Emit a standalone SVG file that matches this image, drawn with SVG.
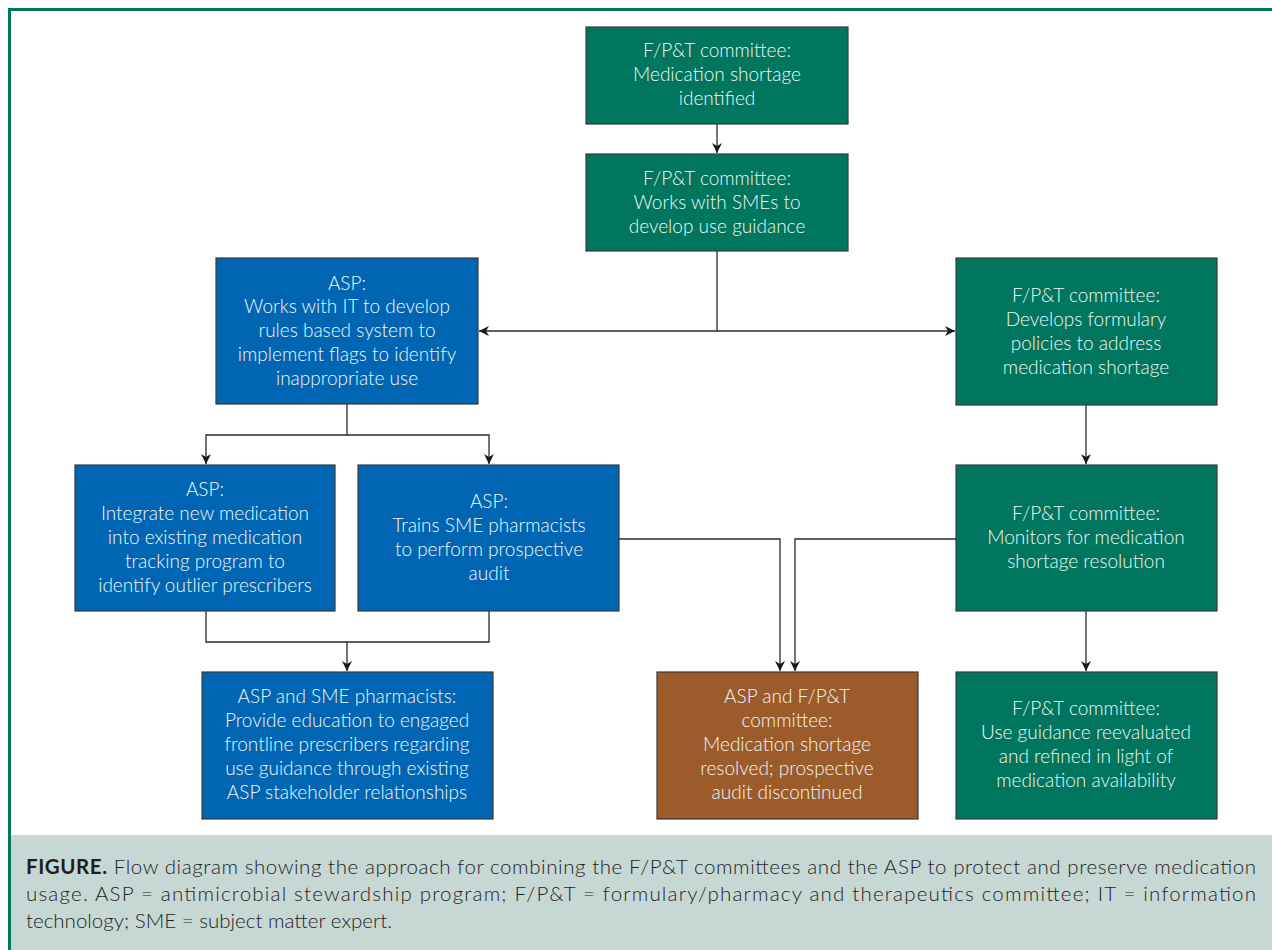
<svg xmlns="http://www.w3.org/2000/svg" width="1272" height="950" viewBox="0 0 1272 950">
<style>
.g{fill:#00765F;stroke:#3a3a3a;stroke-width:1.2}
.b{fill:#0066B3;stroke:#3a3a3a;stroke-width:1.2}
.o{fill:#9C5B2A;stroke:#3a3a3a;stroke-width:1.2}
.t{font-family:Lato,"Open Sans","Liberation Sans",sans-serif;font-weight:300;font-size:19px;fill:#F2F6F5;text-anchor:middle}
.c{fill:none;stroke:#2a2a2a;stroke-width:1.3}
.cap{font-family:Lato,"Open Sans","Liberation Sans",sans-serif;font-weight:300;font-size:20.5px;fill:#1e1e1e}
</style>
<defs>
<marker id="ah" viewBox="0 0 10 10" refX="10" refY="5" markerWidth="10" markerHeight="10" markerUnits="userSpaceOnUse" orient="auto">
<path d="M0,0 L10,5 L0,10 L3,5 Z" fill="#1a1a1a"/>
</marker>
</defs>
<rect x="0" y="0" width="1272" height="950" fill="#fff"/>
<rect x="10" y="835" width="1262" height="115" fill="#C6D7D4"/>
<path d="M9.5,950 V9.5 H1272" fill="none" stroke="#00765F" stroke-width="3"/>

<g id="connectors">
<path class="c" d="M717,124 V153" marker-end="url(#ah)"/>
<path class="c" d="M717,251 V331 H479" marker-end="url(#ah)"/>
<path class="c" d="M717,331 H955" marker-end="url(#ah)"/>
<path class="c" d="M347,404 V435 H206 V464" marker-end="url(#ah)"/>
<path class="c" d="M347,435 H489 V464" marker-end="url(#ah)"/>
<path class="c" d="M206,611 V642 H489 V611"/>
<path class="c" d="M347,642 V671" marker-end="url(#ah)"/>
<path class="c" d="M619,539 H780 V671" marker-end="url(#ah)"/>
<path class="c" d="M956,539 H795 V671" marker-end="url(#ah)"/>
<path class="c" d="M1086,405 V464" marker-end="url(#ah)"/>
<path class="c" d="M1086,611 V671" marker-end="url(#ah)"/>
</g>

<g id="n1"><rect class="g" x="586" y="27" width="262" height="97"/>
<text class="t" x="717" y="57">F/P&amp;T committee:</text>
<text class="t" x="717" y="81">Medication shortage</text>
<text class="t" x="717" y="105">identified</text></g>

<g id="n2"><rect class="g" x="586" y="154" width="262" height="97"/>
<text class="t" x="717" y="185">F/P&amp;T committee:</text>
<text class="t" x="717" y="209">Works with SMEs to</text>
<text class="t" x="717" y="233">develop use guidance</text></g>

<g id="n3"><rect class="b" x="216" y="258" width="262" height="146"/>
<text class="t" x="347" y="290">ASP:</text>
<text class="t" x="347" y="313">Works with IT to develop</text>
<text class="t" x="347" y="337">rules based system to</text>
<text class="t" x="347" y="361">implement flags to identify</text>
<text class="t" x="347" y="385">inappropriate use</text></g>

<g id="n4"><rect class="g" x="956" y="258" width="261" height="147"/>
<text class="t" x="1086" y="302">F/P&amp;T committee:</text>
<text class="t" x="1086" y="326">Develops formulary</text>
<text class="t" x="1086" y="350">policies to address</text>
<text class="t" x="1086" y="374">medication shortage</text></g>

<g id="n5"><rect class="b" x="75" y="465" width="260" height="146"/>
<text class="t" x="205" y="496">ASP:</text>
<text class="t" x="205" y="520">Integrate new medication</text>
<text class="t" x="205" y="544">into existing medication</text>
<text class="t" x="205" y="568">tracking program to</text>
<text class="t" x="205" y="592">identify outlier prescribers</text></g>

<g id="n6"><rect class="b" x="358" y="465" width="261" height="146"/>
<text class="t" x="489" y="508">ASP:</text>
<text class="t" x="489" y="532">Trains SME pharmacists</text>
<text class="t" x="489" y="556">to perform prospective</text>
<text class="t" x="489" y="580">audit</text></g>

<g id="n7"><rect class="g" x="956" y="465" width="261" height="146"/>
<text class="t" x="1086" y="520">F/P&amp;T committee:</text>
<text class="t" x="1086" y="544">Monitors for medication</text>
<text class="t" x="1086" y="568">shortage resolution</text></g>

<g id="n8"><rect class="b" x="202" y="672" width="291" height="147"/>
<text class="t" x="347" y="703">ASP and SME pharmacists:</text>
<text class="t" x="347" y="727">Provide education to engaged</text>
<text class="t" x="347" y="751">frontline prescribers regarding</text>
<text class="t" x="347" y="775">use guidance through existing</text>
<text class="t" x="347" y="799">ASP stakeholder relationships</text></g>

<g id="n9"><rect class="o" x="657" y="672" width="261" height="147"/>
<text class="t" x="787" y="703">ASP and F/P&amp;T</text>
<text class="t" x="787" y="727">committee:</text>
<text class="t" x="787" y="751">Medication shortage</text>
<text class="t" x="787" y="775">resolved; prospective</text>
<text class="t" x="787" y="799">audit discontinued</text></g>

<g id="n10"><rect class="g" x="956" y="672" width="261" height="147"/>
<text class="t" x="1086" y="715">F/P&amp;T committee:</text>
<text class="t" x="1086" y="739">Use guidance reevaluated</text>
<text class="t" x="1086" y="763">and refined in light of</text>
<text class="t" x="1086" y="787">medication availability</text></g>

<g id="caption">
<text class="cap" x="26" y="874" textLength="1230" lengthAdjust="spacing"><tspan font-weight="bold">FIGURE.</tspan> Flow diagram showing the approach for combining the F/P&amp;T committees and the ASP to protect and preserve medication</text>
<text class="cap" x="26" y="901" textLength="1230" lengthAdjust="spacing">usage. ASP = antimicrobial stewardship program; F/P&amp;T = formulary/pharmacy and therapeutics committee; IT = information</text>
<text class="cap" x="26" y="928">technology; SME = subject matter expert.</text>
</g>
</svg>
